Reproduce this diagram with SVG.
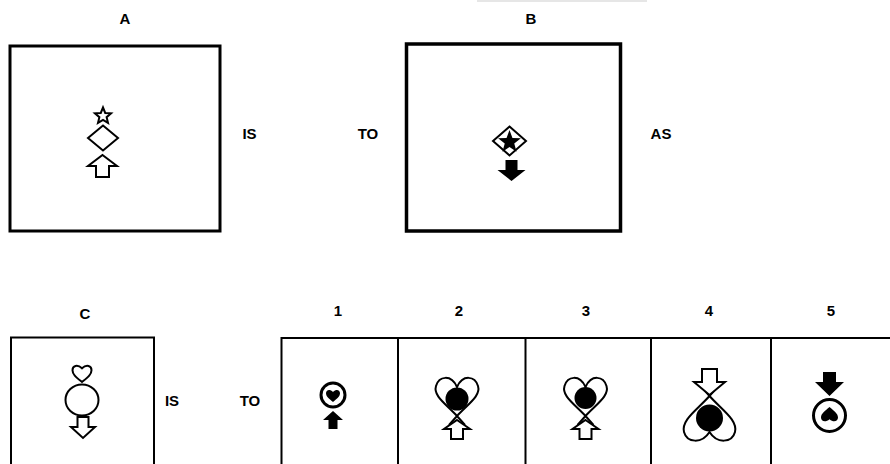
<svg xmlns="http://www.w3.org/2000/svg" width="890" height="464" viewBox="0 0 890 464">
<style>
  .lbl { font-family: "Liberation Sans", Arial, sans-serif; font-weight: bold; font-size: 15px; fill: #000; text-anchor: middle; }
  .box { fill: none; stroke: #000; }
  .ol { fill: #fff; stroke: #000; stroke-width: 2; stroke-linejoin: miter; }
  .blk { fill: #000; stroke: none; }
  .rib { fill: none; stroke: #000; stroke-width: 2; }
</style>
<rect width="890" height="464" fill="#fff"/>
<rect x="477" y="0" width="170" height="2" fill="#e6e6e6"/>

<g id="labels">
  <text class="lbl" x="125" y="24">A</text>
  <text class="lbl" x="531" y="24">B</text>
  <text class="lbl" x="249.5" y="139">IS</text>
  <text class="lbl" x="368" y="139">TO</text>
  <text class="lbl" x="661" y="139">AS</text>
  <text class="lbl" x="85" y="319">C</text>
  <text class="lbl" x="172" y="406">IS</text>
  <text class="lbl" x="250" y="406">TO</text>
  <text class="lbl" x="338" y="316">1</text>
  <text class="lbl" x="459" y="316">2</text>
  <text class="lbl" x="586" y="316">3</text>
  <text class="lbl" x="709" y="316">4</text>
  <text class="lbl" x="831" y="316">5</text>
</g>

<g id="boxA">
  <rect class="box" x="10" y="46" width="210" height="185" stroke-width="3"/>
  <polygon class="ol" stroke-width="1.8" points="103,107.5 105.23,112.93 111.08,113.37 106.61,117.17 108,122.88 103,119.8 98,122.88 99.39,117.17 94.92,113.37 100.77,112.93"/>
  <polygon class="ol" stroke-width="2.2" points="103,125.5 118,138 103,150.5 88,138"/>
  <path class="ol" d="M 102.5 155 L 117 166 H 109 V 177 H 96 V 166 H 88 Z"/>
</g>

<g id="boxB">
  <rect class="box" x="406.5" y="44" width="214" height="187" stroke-width="3.5"/>
  <polygon class="ol" stroke-width="3.5" points="509.5,126.5 526,141 509.5,155.5 493,141"/>
  <polygon class="blk" points="509.5,130 512.44,137.95 520.91,138.29 514.26,143.55 516.55,151.71 509.5,147 502.45,151.71 504.74,143.55 498.09,138.29 506.56,137.95"/>
  <path class="blk" d="M 505.5 160 H 517.5 V 170 H 525.5 L 511.5 181 L 497.5 170 H 505.5 Z"/>
</g>

<g id="boxC">
  <path class="box" stroke-width="2" d="M 11 470 V 337.5 H 154 V 470"/>
  <path class="ol" d="M 82 382 C 76.3 377.3 72.5 374.5 72.5 370.2 C 72.5 365.9 77.3 364 82 368.3 C 86.7 364 91.5 365.9 91.5 370.2 C 91.5 374.5 87.7 377.3 82 382 Z"/>
  <ellipse class="ol" stroke-width="2.5" cx="82" cy="400" rx="16.5" ry="15.5"/>
  <path class="ol" d="M 77.5 417 H 88.5 V 427 H 95 L 83 438 L 71 427 H 77.5 Z"/>
</g>

<g id="optionsFrame">
  <path class="box" stroke-width="2" d="M 281.5 470 V 338 H 895 M 398 338 V 470 M 525.5 338 V 470 M 651 338 V 470 M 771 338 V 470"/>
</g>

<g id="option1">
  <circle cx="333" cy="395" r="12" fill="#fff" stroke="#000" stroke-width="3"/>
  <path class="blk" d="M 333 402 C 328.8 398.5 326 396.4 326 393.3 C 326 390.1 329.5 388.7 333 391.9 C 336.5 388.7 340 390.1 340 393.3 C 340 396.4 337.2 398.5 333 402 Z"/>
  <path class="blk" d="M 333 411 L 343 420 H 337.5 V 429 H 328.5 V 420 H 323 Z"/>
</g>

<g id="option2">
  <path class="rib" d="M 449 425 L 457 416 C 468 404 481 396 478 386 C 475 376 463 374 457 387 C 451 374 439 376 436 386 C 433 396 446 404 457 416 L 465 425"/>
  <circle class="blk" cx="457" cy="399" r="11.5"/>
  <path class="ol" d="M 457 420 L 470 429 H 463 V 439 H 451 V 429 H 444 Z"/>
</g>

<g id="option3">
  <path class="rib" d="M 577.5 425 L 585.5 416 C 596.5 404 609.5 396 606.5 386 C 603.5 376 591.5 374 585.5 387 C 579.5 374 567.5 376 564.5 386 C 561.5 396 574.5 404 585.5 416 L 593.5 425"/>
  <circle class="blk" cx="585.5" cy="398" r="11"/>
  <path class="ol" d="M 585.5 420 L 598.5 429 H 591.5 V 439 H 579.5 V 429 H 572.5 Z"/>
</g>

<g id="option4">
  <path class="rib" d="M 700 385 L 709.5 396 C 722 410 738 420 735 432 C 732 443 717 444 709.5 432 C 702 444 687 443 684 432 C 681 420 697 410 709.5 396 L 719 385"/>
  <path class="ol" d="M 702 369 H 717 V 382 H 725 L 709.5 395 L 694 382 H 702 Z"/>
  <circle class="blk" cx="709.5" cy="418" r="13.5"/>
</g>

<g id="option5">
  <path class="blk" d="M 823 372 H 836 V 382 H 844 L 829.5 396 L 815 382 H 823 Z"/>
  <circle cx="829.5" cy="415.5" r="16" fill="#fff" stroke="#000" stroke-width="3"/>
  <path class="blk" d="M 829.5 407 C 824.4 411.3 821 413.7 821 417.5 C 821 421.3 825.3 423 829.5 419.3 C 833.7 423 838 421.3 838 417.5 C 838 413.7 834.6 411.3 829.5 407 Z"/>
</g>

<g id="connectors"></g>
</svg>
